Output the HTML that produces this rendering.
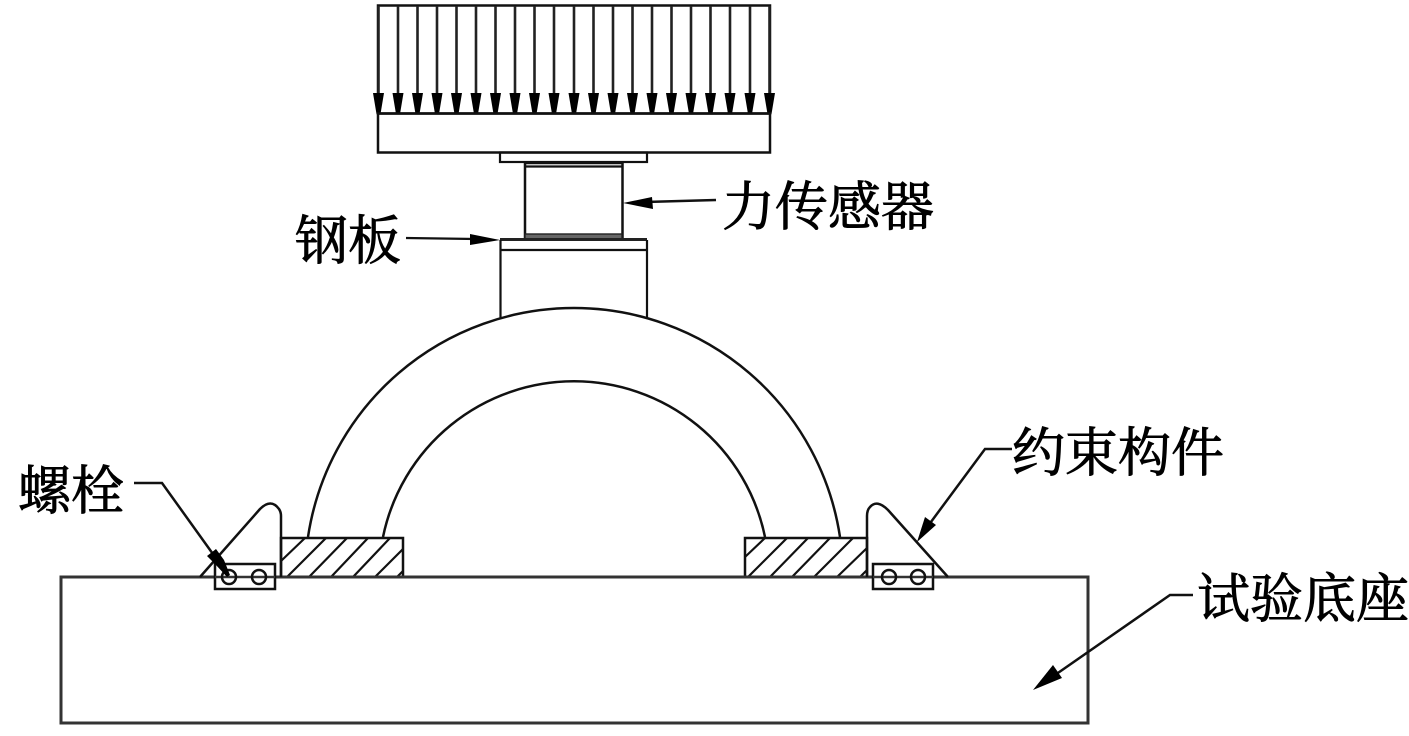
<!DOCTYPE html>
<html>
<head>
<meta charset="utf-8">
<style>
html,body{margin:0;padding:0;background:#fff;width:1409px;height:736px;overflow:hidden}
svg{display:block;filter:blur(.35px)}
text{font-family:"Liberation Serif","Noto Serif CJK SC",serif;font-size:53px;fill:#000;stroke:#000;stroke-width:.9px}
.l{fill:none;stroke:#111;stroke-width:2.5}
.t{fill:none;stroke:#111;stroke-width:2.2}
</style>
</head>
<body>
<svg width="1409" height="736" viewBox="0 0 1409 736" xmlns="http://www.w3.org/2000/svg">
<defs>
<g id="ar"><line x1="0" y1="6" x2="0" y2="100" stroke="#222" stroke-width="2.6"/><polygon points="-5.5,93 5.5,93 2,114 -2,114" fill="#000"/></g>
</defs>

<!-- load arrows -->
<rect x="378" y="5.5" width="392" height="108" class="l"/>
<use href="#ar" x="378.5" y="0"/><use href="#ar" x="398" y="0"/><use href="#ar" x="417.5" y="0"/><use href="#ar" x="437" y="0"/><use href="#ar" x="456.5" y="0"/><use href="#ar" x="476" y="0"/><use href="#ar" x="495.5" y="0"/><use href="#ar" x="515" y="0"/><use href="#ar" x="534.5" y="0"/><use href="#ar" x="554" y="0"/><use href="#ar" x="574" y="0"/><use href="#ar" x="593.5" y="0"/><use href="#ar" x="613" y="0"/><use href="#ar" x="632.5" y="0"/><use href="#ar" x="652" y="0"/><use href="#ar" x="671.5" y="0"/><use href="#ar" x="691" y="0"/><use href="#ar" x="710.5" y="0"/><use href="#ar" x="730" y="0"/><use href="#ar" x="750" y="0"/><use href="#ar" x="769.5" y="0"/>

<!-- top plate -->
<rect x="378" y="113.5" width="392" height="39" class="l"/>
<rect x="500" y="152.5" width="147" height="9.5" class="t"/>

<!-- sensor -->
<rect x="525" y="163" width="97.5" height="76" class="l"/>
<line x1="525" y1="166.5" x2="622" y2="166.5" class="t"/>
<rect x="525" y="234" width="97" height="5" fill="#666" stroke="#222" stroke-width="1.4"/>

<!-- lower block -->
<line x1="500" y1="239.5" x2="647" y2="239.5" stroke="#222" stroke-width="3"/>
<path d="M500.5 240V318M647 240V318" class="t"/>
<line x1="500" y1="250" x2="647" y2="250" class="t"/>

<!-- arch -->
<path d="M308 537A269 269 0 0 1 840 537" class="l"/>
<path d="M383 537A195 195 0 0 1 765 537" class="l"/>

<!-- hatched blocks -->
<g class="t">
<rect x="281" y="538" width="122" height="39" class="l"/>
<path d="M281 561L305 538M287 577L326 538M309 577L347 538M331 577L368 538M353 577L390 538M375 577L403 549M397 577L403 571"/>
<rect x="745" y="538" width="122" height="39" class="l"/>
<path d="M745 557L765 538M748 577L787 538M770 577L808 538M792 577L830 538M814 577L853 538M837 577L867 548M860 577L867 570"/>
</g>

<!-- base -->
<rect x="61" y="577" width="1027" height="146" fill="none" stroke="#333" stroke-width="3"/>

<!-- left clamp -->
<path d="M200 577L260 509Q271 498 279 509Q281 512 281 516V577" class="l" stroke-linejoin="round"/>
<rect x="215" y="564" width="60" height="25" class="l" style="fill:#fff"/>
<line x1="215" y1="577" x2="275" y2="577" stroke="#333" stroke-width="2.4"/>
<circle cx="229" cy="577" r="7" class="l"/>
<circle cx="259" cy="577" r="7" class="l"/>

<!-- right clamp -->
<path d="M948 577L888 510Q877 499 870 507Q867 510 867 516V577" class="l" stroke-linejoin="round"/>
<rect x="873" y="564" width="60" height="25" class="l" style="fill:#fff"/>
<line x1="873" y1="577" x2="933" y2="577" stroke="#333" stroke-width="2.4"/>
<circle cx="889" cy="577" r="7" class="l"/>
<circle cx="918" cy="577" r="7" class="l"/>

<!-- leaders -->
<path d="M134 483H162L228 575" class="l"/>
<polygon points="207,556 216,549 224,560 230,575 227,577 216,565" fill="#000"/>
<path d="M1012 449H985L925 530" class="l"/>
<polygon points="917,542 925,517 936,525" fill="#000"/>
<path d="M1193 595H1170L1055 675" class="l"/>
<polygon points="1033,690 1053,665 1062,678" fill="#000"/>
<path d="M716 200L645 202" class="l"/>
<polygon points="623,203 652,197 653,209" fill="#000"/>
<path d="M406 238L475 239" class="t"/>
<polygon points="500,240 470,234 470,245" fill="#000"/>

<!-- labels -->
<text x="722" y="225">力传感器</text>
<text x="295" y="259">钢板</text>
<text x="18" y="509">螺栓</text>
<text x="1012" y="471">约束构件</text>
<text x="1197" y="617">试验底座</text>
</svg>
</body>
</html>
